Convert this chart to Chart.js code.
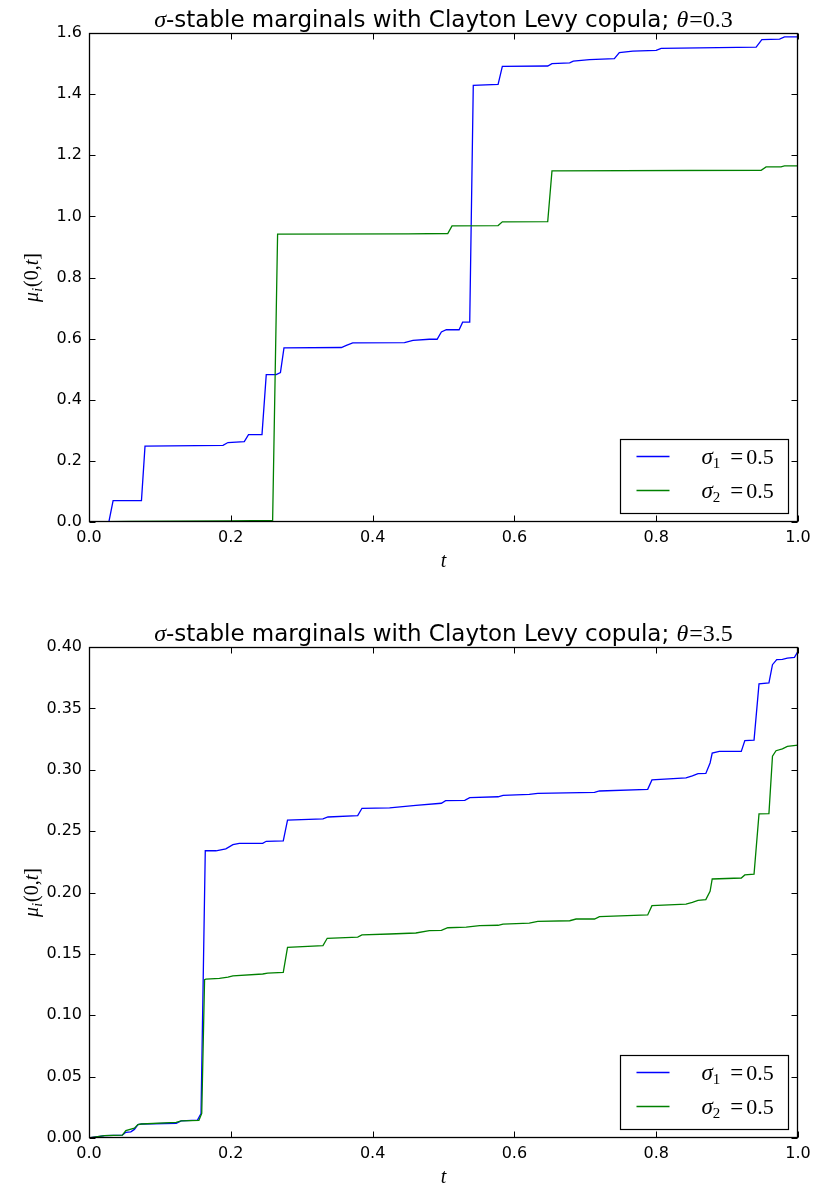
<!DOCTYPE html>
<html>
<head>
<meta charset="utf-8">
<script src="https://cdn.jsdelivr.net/npm/chart.js@4/dist/chart.umd.min.js"></script>
<style>
  html, body { margin: 0; padding: 0; background: #fff; overflow: hidden; }
  #wrap { position: relative; width: 814px; height: 1185px; }
  canvas { position: absolute; left: 0; display: block; }
</style>
</head>
<body>
<div id="wrap">
  <canvas id="top" width="814" height="600" style="top:0"></canvas>
  <canvas id="bottom" width="814" height="570" style="top:615px"></canvas>
</div>
<script>
// ---- theta = 0.3 : cumulative jump measures on [0, 1] ----
const theta1 = '0.3';
const t1Sigma1 = [0, 0.028, 0.034, 0.074, 0.079, 0.189, 0.196, 0.219, 0.225, 0.244, 0.250, 0.264, 0.270, 0.275,
  0.356, 0.363, 0.372, 0.445, 0.457, 0.480, 0.491, 0.497, 0.504, 0.522, 0.527, 0.537, 0.542, 0.577, 0.583,
  0.647, 0.653, 0.678, 0.683, 0.706, 0.741, 0.748, 0.767, 0.800, 0.807, 0.941, 0.949, 0.974, 0.981, 1.0];
const mu1Sigma1 = [0, 0, 0.070, 0.070, 0.248, 0.251, 0.260, 0.263, 0.286, 0.286, 0.482, 0.482, 0.489, 0.570,
  0.571, 0.578, 0.586, 0.587, 0.594, 0.598, 0.598, 0.622, 0.629, 0.629, 0.654, 0.654, 1.429, 1.432, 1.491,
  1.492, 1.500, 1.502, 1.508, 1.513, 1.516, 1.536, 1.541, 1.543, 1.550, 1.554, 1.578, 1.580, 1.587, 1.587];
const t1Sigma2 = [0, 0.057, 0.200, 0.259, 0.266, 0.450, 0.506, 0.512, 0.577, 0.583, 0.647, 0.653, 0.948,
  0.955, 0.976, 0.981, 1.0];
const mu1Sigma2 = [0, 0.002, 0.004, 0.005, 0.942, 0.943, 0.944, 0.969, 0.970, 0.982, 0.983, 1.149, 1.151,
  1.162, 1.162, 1.165, 1.165];

// ---- theta = 3.5 ----
const theta2 = '3.5';
const t2Sigma1 = [0, 0.022, 0.047, 0.052, 0.059, 0.064, 0.069, 0.074, 0.123, 0.130, 0.153, 0.158, 0.164,
  0.179, 0.193, 0.203, 0.212, 0.245, 0.250, 0.274, 0.280, 0.330, 0.337, 0.379, 0.385, 0.424, 0.461, 0.497,
  0.503, 0.530, 0.537, 0.577, 0.584, 0.621, 0.633, 0.713, 0.720, 0.788, 0.794, 0.842, 0.851, 0.859, 0.870,
  0.876, 0.879, 0.889, 0.920, 0.925, 0.938, 0.945, 0.959, 0.964, 0.970, 0.978, 0.985, 0.995, 1.0];
const mu2Sigma1 = [0, 0.002, 0.0024, 0.0046, 0.005, 0.007, 0.011, 0.0114, 0.012, 0.014, 0.0146, 0.020, 0.234,
  0.234, 0.2355, 0.239, 0.240, 0.240, 0.2417, 0.242, 0.259, 0.260, 0.2615, 0.2626, 0.2686, 0.269, 0.271,
  0.2727, 0.2748, 0.2751, 0.2773, 0.278, 0.2792, 0.280, 0.2808, 0.2816, 0.2827, 0.284, 0.2917, 0.2933,
  0.295, 0.2968, 0.297, 0.3055, 0.3136, 0.315, 0.315, 0.3237, 0.3242, 0.370, 0.3707, 0.3856, 0.3897,
  0.390, 0.391, 0.3916, 0.3965];
const t2Sigma2 = [0, 0.022, 0.047, 0.052, 0.064, 0.069, 0.074, 0.123, 0.130, 0.155, 0.159, 0.163, 0.165,
  0.184, 0.196, 0.203, 0.245, 0.252, 0.274, 0.280, 0.330, 0.336, 0.379, 0.385, 0.424, 0.461, 0.480, 0.497,
  0.506, 0.532, 0.551, 0.577, 0.584, 0.621, 0.633, 0.678, 0.687, 0.713, 0.720, 0.788, 0.794, 0.842, 0.851,
  0.859, 0.870, 0.876, 0.879, 0.920, 0.925, 0.938, 0.945, 0.959, 0.964, 0.969, 0.978, 0.985, 1.0];
const mu2Sigma2 = [0, 0.002, 0.0024, 0.006, 0.008, 0.011, 0.0114, 0.0128, 0.014, 0.0144, 0.020, 0.129,
  0.1295, 0.130, 0.131, 0.132, 0.1336, 0.1344, 0.135, 0.1553, 0.1567, 0.1627, 0.1637, 0.1654, 0.1662,
  0.167, 0.1689, 0.1692, 0.1713, 0.1718, 0.173, 0.1733, 0.1743, 0.175, 0.1765, 0.177, 0.1784, 0.1784,
  0.1803, 0.1817, 0.1893, 0.1906, 0.192, 0.1936, 0.1942, 0.201, 0.211, 0.2118, 0.2143, 0.215, 0.264,
  0.2643, 0.311, 0.3155, 0.317, 0.319, 0.320];

// legend entries: [symbol subscript, value]
const legendSigmas = [['1', '0.5'], ['2', '0.5']];
const xTickStep = 0.2;

const BLUE = '#0000ff';
const GREEN = '#008000';
const SANS = '"DejaVu Sans"';
const SERIF = '"Liberation Serif"';

function zip(ts, vs) { return ts.map((t, i) => ({ x: t, y: vs[i] })); }

// draws a run of differently styled text pieces starting at x
function drawRuns(ctx, runs, x, y) {
  for (const r of runs) {
    ctx.font = r.font;
    ctx.fillText(r.text, x + (r.dx || 0), y + (r.dy || 0));
    x += ctx.measureText(r.text).width + (r.dx || 0) + (r.gap || 0);
  }
}
function runsWidth(ctx, runs) {
  let w = 0;
  for (const r of runs) { ctx.font = r.font; w += ctx.measureText(r.text).width + (r.dx || 0) + (r.gap || 0); }
  return w;
}

// frame, inward ticks on all sides, title, axis labels and legend
const decor = {
  id: 'decor',
  afterDraw(chart, args, o) {
    const ctx = chart.ctx;
    const a = chart.chartArea;
    const xs = chart.scales.x, ys = chart.scales.y;
    ctx.save();
    ctx.strokeStyle = '#000';
    ctx.lineWidth = 1;
    const L = Math.round(a.left) + 0.5, R = Math.round(a.right) - 0.5;
    const T = Math.round(a.top) + 0.5, B = Math.round(a.bottom) - 0.5;
    ctx.beginPath();
    const tl = 6;
    xs.ticks.forEach(tk => {
      const px = Math.round(xs.getPixelForValue(tk.value)) + 0.5;
      ctx.moveTo(px, B); ctx.lineTo(px, B - tl);
      ctx.moveTo(px, T); ctx.lineTo(px, T + tl);
    });
    ys.ticks.forEach(tk => {
      const py = Math.round(ys.getPixelForValue(tk.value)) + 0.5;
      ctx.moveTo(L, py); ctx.lineTo(L + tl, py);
      ctx.moveTo(R, py); ctx.lineTo(R - tl, py);
    });
    ctx.stroke();
    ctx.lineWidth = 1.3;
    ctx.strokeRect(L, T, R - L, B - T);

    ctx.fillStyle = '#000';
    ctx.textBaseline = 'alphabetic';
    // title
    const title = [
      { text: 'σ', font: 'italic 24px ' + SERIF },
      { text: '-stable marginals with Clayton Levy copula; ', font: '23px ' + SANS },
      { text: 'θ', font: 'italic 24px ' + SERIF, gap: 1 },
      { text: '=' + o.theta, font: '24px ' + SERIF }
    ];
    const cx = (a.left + a.right) / 2;
    drawRuns(ctx, title, cx - runsWidth(ctx, title) / 2, a.top - 6);

    // x label
    ctx.font = 'italic 20px ' + SERIF;
    ctx.textAlign = 'center';
    ctx.fillText('t', cx, a.bottom + 45);
    ctx.textAlign = 'left';

    // y label, rotated
    const ylab = [
      { text: 'μ', font: 'italic 20px ' + SERIF },
      { text: 'i', font: 'italic 14px ' + SERIF, dy: 4 },
      { text: '(0,', font: '20px ' + SERIF, dx: 1 },
      { text: 't', font: 'italic 20px ' + SERIF },
      { text: ']', font: '20px ' + SERIF }
    ];
    ctx.save();
    ctx.translate(38, (a.top + a.bottom) / 2);
    ctx.rotate(-Math.PI / 2);
    drawRuns(ctx, ylab, -runsWidth(ctx, ylab) / 2, 0);
    ctx.restore();

    // legend box
    const bw = 168, bh = 74;
    const bx = Math.round(a.right - 10 - bw) + 0.5, by = Math.round(a.bottom - 9 - bh) + 0.5;
    ctx.fillStyle = '#fff';
    ctx.fillRect(bx, by, bw, bh);
    ctx.strokeStyle = '#000';
    ctx.lineWidth = 1.2;
    ctx.strokeRect(bx, by, bw, bh);
    const colors = [BLUE, GREEN];
    legendSigmas.forEach((s, i) => {
      const ly = by + 17 + i * 34;
      ctx.strokeStyle = colors[i];
      ctx.lineWidth = 1.3;
      ctx.beginPath();
      ctx.moveTo(bx + 16, ly); ctx.lineTo(bx + 49, ly);
      ctx.stroke();
      ctx.fillStyle = '#000';
      drawRuns(ctx, [
        { text: 'σ', font: 'italic 23px ' + SERIF },
        { text: s[0], font: '15px ' + SERIF, dy: 4, gap: 10 },
        { text: '=', font: '23px ' + SERIF, gap: 3 },
        { text: s[1], font: '22px ' + SERIF }
      ], bx + 81, ly + 7);
    });
    ctx.restore();
  }
};

function makeChart(id, cfg) {
  return new Chart(document.getElementById(id), {
    type: 'line',
    data: {
      datasets: [
        { label: 'sigma1', data: zip(cfg.tA, cfg.vA), borderColor: BLUE, borderWidth: 1.3,
          pointRadius: 0, tension: 0, fill: false, order: 1 },
        { label: 'sigma2', data: zip(cfg.tB, cfg.vB), borderColor: GREEN, borderWidth: 1.3,
          pointRadius: 0, tension: 0, fill: false, order: 0 }
      ]
    },
    options: {
      responsive: false,
      animation: false,
      devicePixelRatio: 1,
      layout: { padding: { top: cfg.padTop, right: 16, left: 0, bottom: 0 } },
      plugins: {
        legend: { display: false },
        title: { display: false },
        tooltip: { enabled: false },
        decor: { theta: cfg.theta }
      },
      scales: {
        x: {
          type: 'linear', min: 0, max: 1,
          ticks: { stepSize: xTickStep, callback: v => v.toFixed(1), color: '#000',
                   font: { family: 'DejaVu Sans', size: 16 }, padding: 6, maxRotation: 0, autoSkip: false },
          grid: { display: false, drawTicks: false },
          border: { display: false },
          afterFit: s => { s.height = cfg.xHeight; s.paddingLeft = 0; s.paddingRight = 0; }
        },
        y: {
          type: 'linear', min: 0, max: cfg.yMax,
          ticks: { stepSize: cfg.yStep, callback: v => v.toFixed(cfg.yDec), color: '#000',
                   font: { family: 'DejaVu Sans', size: 16 }, padding: 7, autoSkip: false },
          grid: { display: false, drawTicks: false },
          border: { display: false },
          afterFit: s => { s.width = 89; s.paddingTop = 0; s.paddingBottom = 0; }
        }
      }
    },
    plugins: [decor]
  });
}

makeChart('top', { tA: t1Sigma1, vA: mu1Sigma1, tB: t1Sigma2, vB: mu1Sigma2, theta: theta1,
  yMax: 1.6, yStep: 0.2, yDec: 1, padTop: 33, xHeight: 78 });
makeChart('bottom', { tA: t2Sigma1, vA: mu2Sigma1, tB: t2Sigma2, vB: mu2Sigma2, theta: theta2,
  yMax: 0.4, yStep: 0.05, yDec: 2, padTop: 32, xHeight: 47 });
</script>
</body>
</html>
